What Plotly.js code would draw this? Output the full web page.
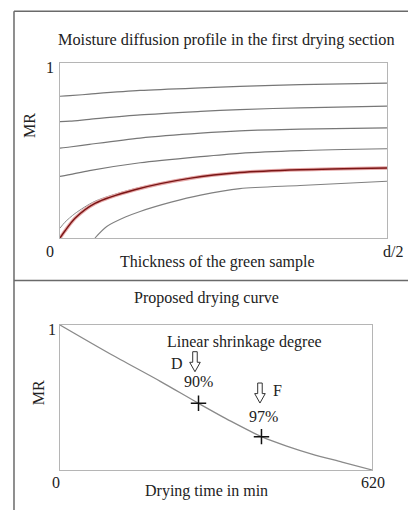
<!DOCTYPE html>
<html>
<head>
<meta charset="utf-8">
<script src="https://cdn.plot.ly/plotly-3.0.1.min.js"></script>
<style>html,body{margin:0;padding:0;background:#fff;}#chart{width:408px;height:510px;}</style>
</head>
<body>
<div id="chart"></div>
<script>
// ---- Top panel: moisture diffusion profiles (x = normalised thickness 0..d/2) ----
const profileX = [0, 0.03, 0.09, 0.245, 0.43, 0.55, 0.734, 1];
const profile1 = [0.81, 0.813, 0.822, 0.843, 0.858, 0.866, 0.876, 0.885];
const profile2 = [0.665, 0.668, 0.678, 0.703, 0.723, 0.734, 0.744, 0.753];
const profile3 = [0.514, 0.52, 0.535, 0.571, 0.599, 0.612, 0.622, 0.629];
const profile4 = [0.352, 0.362, 0.385, 0.43, 0.465, 0.484, 0.499, 0.51];
const redX = [0, 0.015, 0.046, 0.107, 0.229, 0.4, 0.55, 0.734, 1];
const profileRed = [0.0, 0.04, 0.113, 0.198, 0.276, 0.342, 0.374, 0.39, 0.40];
const profileGrey = [0.056, 0.09, 0.14, 0.21, 0.282, 0.346, 0.377, 0.393, 0.404];
const innerX = [0.107, 0.143, 0.2, 0.245, 0.34, 0.43, 0.55, 0.734, 1];
const innerMR = [0.0, 0.066, 0.12, 0.152, 0.205, 0.245, 0.282, 0.30, 0.324];

// ---- Bottom panel: proposed drying curve ----
const dryTime = [0, 100, 200, 275, 340, 400, 450, 500, 560, 620];
const dryMR = [1, 0.80, 0.61, 0.46, 0.335, 0.23, 0.165, 0.11, 0.055, 0];
const markTime = [275, 400];
const markMR = [0.46, 0.23];

// tick labels
const topYTicks = ["0", "1"];
const topXTicks = ["0", "d/2"];
const botYTicks = ["1"];
const botXTicks = ["0", "620"];

const F = "Liberation Serif, Times New Roman, serif";
const TXT = "#222";
function grey(w, c) { return {color: c || "#777", width: w || 1.2, shape: "spline", smoothing: 0.8}; }

const traces = [
  {x: profileX, y: profile1, mode: "lines", line: grey()},
  {x: profileX, y: profile2, mode: "lines", line: grey()},
  {x: profileX, y: profile3, mode: "lines", line: grey()},
  {x: profileX, y: profile4, mode: "lines", line: grey()},
  {x: redX, y: profileGrey, mode: "lines", line: grey(1, "#8a8a8a")},
  {x: redX, y: profileRed, mode: "lines", line: grey(3.5, "#e6a8a8")},
  {x: redX, y: profileRed, mode: "lines", line: grey(1.4, "#7a1515")},
  {x: innerX, y: innerMR, mode: "lines", line: grey(1.1, "#808080")},
  {x: dryTime, y: dryMR, mode: "lines", line: grey(1.3, "#8a8a8a"), xaxis: "x2", yaxis: "y2"},
  {x: markTime, y: markMR, mode: "markers", xaxis: "x2", yaxis: "y2",
   marker: {symbol: "cross-thin", size: 11, line: {color: "#111", width: 1.5}}}
];

const axisBase = {showline: true, mirror: true, linecolor: "#b5b5b5", linewidth: 1,
  showgrid: false, zeroline: false, ticks: "", showticklabels: false, fixedrange: true};

function ann(text, x, y, opts) {
  return Object.assign({text: text, x: x, y: y, xref: "paper", yref: "paper", showarrow: false,
    xanchor: "center", yanchor: "middle", font: {family: F, size: 16, color: TXT}}, opts || {});
}
function dann(text, x, y, opts) {
  return Object.assign({text: text, x: x, y: y, xref: "x2", yref: "y2", showarrow: false,
    xanchor: "center", yanchor: "middle", font: {family: F, size: 16, color: TXT}}, opts || {});
}

const annotations = [
  ann("Moisture diffusion profile in the first drying section", 0.556, 0.9216, {font: {family: F, size: 16.3, color: TXT}}),
  ann("MR", 0.0735, 0.755, {textangle: -90}),
  ann("Thickness of the green sample", 0.532, 0.486),
  ann(topYTicks[1], 0.1225, 0.8667),
  ann(topYTicks[0], 0.1225, 0.506),
  ann(topXTicks[1], 0.963, 0.506),
  ann("Proposed drying curve", 0.505, 0.416),
  ann("MR", 0.093, 0.231, {textangle: -90}),
  ann("Drying time in min", 0.507, 0.037),
  ann(botYTicks[0], 0.1275, 0.353),
  ann(botXTicks[0], 0.137, 0.053),
  ann(botXTicks[1], 0.914, 0.053),
  dann("Linear shrinkage degree", 367, 0.883),
  dann("D", 232, 0.738),
  dann("90%", 274, 0.609),
  dann("F", 431, 0.545),
  dann("97%", 405, 0.366)
];

// hollow down-arrow pointer (decoration), in x2/y2 units
function hollowArrow(cx, top, bottom) {
  const sw = 4.5, hw = 10.5, hh = 0.065; // stem half-width, head half-width (min), head height (MR)
  const hs = bottom + hh;
  const p = `M ${cx - sw},${top} L ${cx + sw},${top} L ${cx + sw},${hs} L ${cx + hw},${hs} L ${cx},${bottom} L ${cx - hw},${hs} L ${cx - sw},${hs} Z`;
  return {type: "path", xref: "x2", yref: "y2", path: p, line: {color: "#333", width: 1}, fillcolor: "rgba(255,255,255,0)"};
}

const lineCol = "#6a6a6a";
const shapes = [
  {type: "line", xref: "paper", yref: "paper", x0: 0.0343, x1: 0.0343, y0: 0, y1: 0.978, line: {color: lineCol, width: 1.5}},
  {type: "line", xref: "paper", yref: "paper", x0: 0.0343, x1: 1, y0: 0.978, y1: 0.978, line: {color: lineCol, width: 1.5}},
  {type: "line", xref: "paper", yref: "paper", x0: 0.0343, x1: 1, y0: 0.45, y1: 0.45, line: {color: lineCol, width: 1.5}},
  hollowArrow(268, 0.816, 0.678),
  hollowArrow(397, 0.600, 0.462)
];

const layout = {
  width: 408, height: 510,
  margin: {l: 0, r: 0, t: 0, b: 0},
  paper_bgcolor: "#fff", plot_bgcolor: "#fff",
  showlegend: false,
  xaxis: Object.assign({}, axisBase, {domain: [0.147, 0.9485], range: [0, 1], anchor: "y"}),
  yaxis: Object.assign({}, axisBase, {domain: [0.5333, 0.8765], range: [0, 1], anchor: "x"}),
  xaxis2: Object.assign({}, axisBase, {domain: [0.147, 0.9125], range: [0, 620], anchor: "y2"}),
  yaxis2: Object.assign({}, axisBase, {domain: [0.0784, 0.3627], range: [0, 1], anchor: "x2"}),
  annotations: annotations,
  shapes: shapes
};

Plotly.newPlot("chart", traces, layout, {displayModeBar: false, staticPlot: true});
</script>
</body>
</html>
